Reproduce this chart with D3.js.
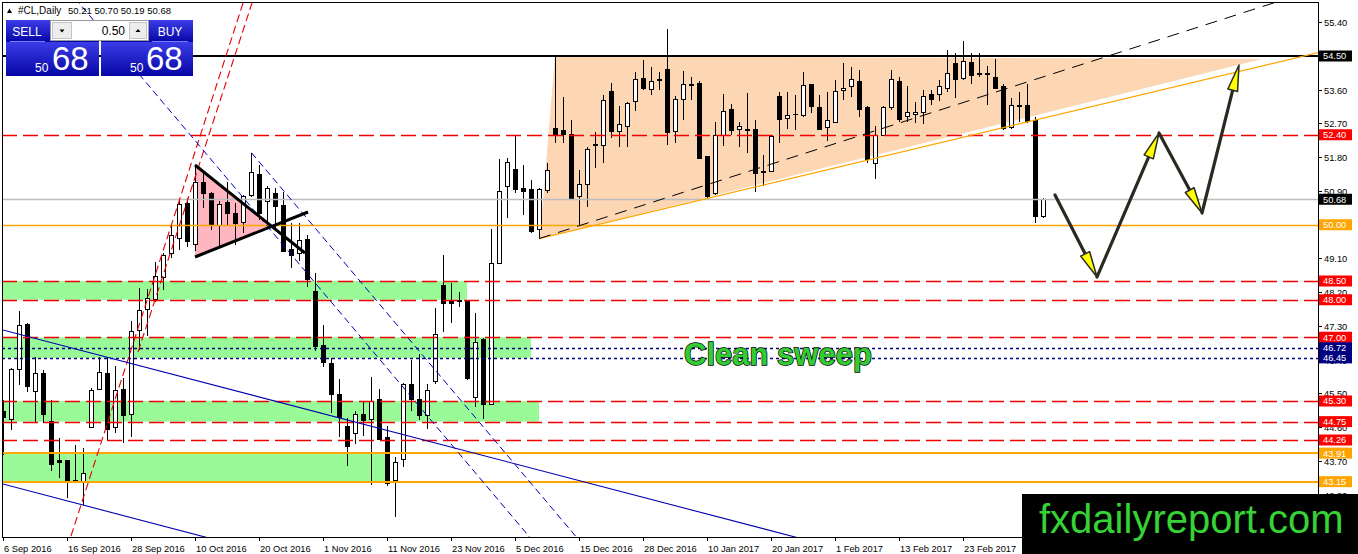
<!DOCTYPE html>
<html><head><meta charset="utf-8">
<script src="https://cdn.jsdelivr.net/npm/d3@7"></script>
<style>
body{margin:0;background:#fff;}
svg{display:block;font-family:"Liberation Sans",Arial,sans-serif;}
</style>
</head><body>
<svg id="c" width="1358" height="554"></svg>
<script>
// ---------------- DATA ----------------
const dates = ["2016-09-06","2016-09-07","2016-09-08","2016-09-09","2016-09-12","2016-09-13","2016-09-14","2016-09-15","2016-09-16","2016-09-19",
"2016-09-20","2016-09-21","2016-09-22","2016-09-23","2016-09-26","2016-09-27","2016-09-28","2016-09-29","2016-09-30","2016-10-03",
"2016-10-04","2016-10-05","2016-10-06","2016-10-07","2016-10-10","2016-10-11","2016-10-12","2016-10-13","2016-10-14","2016-10-17",
"2016-10-18","2016-10-19","2016-10-20","2016-10-21","2016-10-24","2016-10-25","2016-10-26","2016-10-27","2016-10-28","2016-10-31",
"2016-11-01","2016-11-02","2016-11-03","2016-11-04","2016-11-07","2016-11-08","2016-11-09","2016-11-10","2016-11-11","2016-11-14",
"2016-11-15","2016-11-16","2016-11-17","2016-11-18","2016-11-21","2016-11-22","2016-11-23","2016-11-24","2016-11-25","2016-11-28",
"2016-11-29","2016-11-30","2016-12-01","2016-12-02","2016-12-05","2016-12-06","2016-12-07","2016-12-08","2016-12-09","2016-12-12",
"2016-12-13","2016-12-14","2016-12-15","2016-12-16","2016-12-19","2016-12-20","2016-12-21","2016-12-22","2016-12-23","2016-12-27",
"2016-12-28","2016-12-29","2016-12-30","2017-01-03","2017-01-04","2017-01-05","2017-01-06","2017-01-09","2017-01-10","2017-01-11",
"2017-01-12","2017-01-13","2017-01-16","2017-01-17","2017-01-18","2017-01-19","2017-01-20","2017-01-23","2017-01-24","2017-01-25",
"2017-01-26","2017-01-27","2017-01-30","2017-01-31","2017-02-01","2017-02-02","2017-02-03","2017-02-06","2017-02-07","2017-02-08",
"2017-02-09","2017-02-10","2017-02-13","2017-02-14","2017-02-15","2017-02-16","2017-02-17","2017-02-20","2017-02-21","2017-02-22",
"2017-02-23","2017-02-24","2017-02-27","2017-02-28","2017-03-01","2017-03-02","2017-03-03","2017-03-06","2017-03-07","2017-03-08",
"2017-03-09"];

const open = [45.02,44.81,46.13,47.35,45.55,46.04,44.75,43.70,43.71,43.15,
43.15,44.60,45.61,46.04,44.60,45.61,44.94,47.19,47.74,48.01,
48.60,49.24,49.64,50.57,49.46,51.13,50.82,49.99,50.59,50.29,
50.06,50.77,51.33,50.62,50.84,50.50,49.33,49.22,49.61,48.23,
46.77,46.30,45.48,44.63,44.44,44.94,44.81,45.34,44.33,43.18,
43.74,45.74,45.34,44.91,45.83,48.37,47.95,47.98,47.97,45.40,
46.94,45.21,48.97,51.02,51.46,50.97,50.93,49.88,50.91,52.57,
52.50,52.41,50.75,51.08,52.15,52.10,53.55,52.48,52.63,53.28,
53.90,53.61,53.88,54.13,52.48,53.34,53.73,53.77,51.82,50.82,
52.37,53.06,52.54,52.53,52.53,51.42,51.42,53.42,52.83,52.94,
52.91,53.73,53.13,52.60,52.73,53.57,53.68,53.81,53.13,51.64,
52.37,53.13,53.82,52.88,52.95,52.99,53.46,53.46,53.64,54.29,
53.90,54.32,54.02,54.02,53.93,53.68,52.60,53.17,53.17,52.79,
50.21];
const high = [45.33,46.17,47.71,47.37,46.48,46.13,45.33,44.30,43.73,44.13,
44.04,45.64,46.48,46.48,46.22,45.92,47.42,48.30,48.28,49.00,
49.24,49.99,50.66,50.70,51.59,51.39,50.88,50.62,51.15,50.57,
50.79,51.92,51.59,51.02,50.97,50.88,50.04,50.04,49.73,48.70,
47.33,46.44,45.88,44.84,45.02,45.28,45.93,45.61,44.62,43.80,
45.77,46.39,46.55,45.75,47.79,49.19,48.44,48.20,47.99,47.64,
46.97,49.88,51.74,51.77,52.39,51.59,51.19,50.97,51.64,54.50,
53.40,52.79,51.46,52.08,52.48,53.45,53.79,53.17,53.28,54.08,
54.38,54.20,54.08,55.21,53.42,54.11,53.95,53.82,51.82,52.75,
53.49,53.22,52.75,53.52,52.79,51.86,52.39,53.55,53.55,53.46,
54.06,53.75,53.46,53.55,53.86,54.32,54.20,54.13,53.17,52.62,
53.17,54.13,53.95,53.70,53.26,53.58,53.58,53.86,54.66,54.57,
54.91,54.57,54.59,54.22,54.41,53.75,53.37,53.55,53.75,52.88,
50.70];
const low = [43.86,44.53,45.73,45.55,44.70,44.70,43.42,43.24,42.70,43.10,
42.53,44.60,45.59,44.22,44.44,44.17,44.35,46.65,47.02,47.95,
48.26,49.10,49.33,49.40,49.30,50.44,49.86,49.42,49.99,49.46,
49.77,50.75,50.13,49.99,49.82,49.28,48.84,49.02,48.35,46.62,
46.20,44.97,44.35,43.57,44.15,44.37,43.06,44.26,43.03,42.20,
43.55,45.02,44.78,44.54,45.74,47.15,47.39,47.80,45.86,45.13,
44.81,45.19,48.97,50.17,50.84,50.26,49.77,49.61,50.84,52.17,
52.17,50.66,49.99,50.48,51.50,51.64,52.30,52.06,52.06,53.02,
53.59,53.46,53.59,52.13,52.17,52.79,53.33,51.74,50.70,50.79,
52.10,52.39,52.08,51.90,50.88,51.02,51.42,52.19,52.54,52.53,
52.88,52.97,52.53,52.22,52.73,53.33,53.40,52.88,51.64,51.21,
52.37,53.06,52.75,52.75,52.70,52.69,53.19,53.31,53.55,53.37,
53.86,53.75,53.93,53.19,53.61,52.53,52.55,52.75,52.70,50.04,
50.19];
const close = [44.85,46.13,47.30,45.68,46.04,44.94,43.61,43.67,43.15,43.18,
43.37,45.59,46.06,44.54,45.59,44.91,47.15,47.71,48.04,48.62,
49.17,49.70,50.55,49.55,51.13,50.84,49.99,50.53,50.29,50.04,
50.75,51.39,50.30,50.97,50.48,49.28,49.19,49.59,48.53,46.75,
46.32,45.46,44.86,44.08,44.94,44.79,45.28,44.26,43.09,43.66,
45.73,45.33,44.91,45.59,47.08,47.89,47.90,47.96,45.90,46.86,
45.21,48.97,50.88,51.66,50.94,50.88,49.82,50.94,51.44,52.41,
52.41,50.70,51.06,52.01,52.10,53.30,52.48,52.66,53.24,53.86,
53.62,53.83,53.85,52.46,53.34,53.75,53.70,51.77,50.75,52.37,
53.03,52.51,52.63,52.51,51.37,51.40,52.35,52.81,52.92,52.94,
53.70,53.15,52.54,52.79,53.55,53.64,53.86,53.08,51.73,52.37,
53.13,53.86,52.81,52.99,53.00,53.42,53.35,53.68,54.02,53.86,
54.35,53.99,54.00,54.00,53.64,52.57,53.17,53.15,52.75,50.21,
50.68];

const tickIndex = [0,8,16,24,32,40,48,56,64,72,80,88,96,104,112,120];
const tickLabels = ["6 Sep 2016","16 Sep 2016","28 Sep 2016","10 Oct 2016","20 Oct 2016","1 Nov 2016","11 Nov 2016","23 Nov 2016",
"5 Dec 2016","15 Dec 2016","28 Dec 2016","10 Jan 2017","20 Jan 2017","1 Feb 2017","13 Feb 2017","23 Feb 2017"];
const priceTicks = [55.40,54.50,53.60,52.70,51.80,50.90,50.00,49.10,48.20,47.30,46.40,45.50,44.60,43.70,42.80];

const levelPrices = [54.50,52.40,50.68,50.00,48.50,48.00,47.00,46.72,46.45,45.30,44.75,44.26,43.91,43.15];
const levelKinds  = ["resist","red","last","orangeThin","red","red","red","navy","navy","red","red","red","orange","orange"];

const zoneTop    = [48.50,47.00,45.30,43.91];
const zoneBottom = [48.00,46.45,44.75,43.15];
const zoneEndBar = [58,66,67,48];

const header = "#CL,Daily";
const ohlcText = "50.21 50.70 50.19 50.68";
const lotText = "0.50";
const bidBig = "68", bidSmall = "50";

// drawn objects (anchor points as [bar index, price])
const channelPeach = [[69,54.50],[67.1,49.63],[157.4,54.42]];
const flagPink = [[24,51.593],[24,49.14],[33.6,49.955]];
const flagUpper = [[24,51.593],[37.75,49.247]];
const flagLower = [[24,49.14],[38.125,50.34]];
const trendBlackDash = [[67,49.63],[112,52.71]];
const trendOrange = [[67,49.63],[162,54.47]];
const redRay1 = [[8.5,41.70],[30.0,55.91]];
const redRay2 = [[16.875,46.607],[31.125,55.913]];
const blueSolid1 = [[-0.5,47.22],[99,41.673]];
const blueSolid2 = [[-0.5,43.113],[25.25,41.673]];
const blueDash1 = [[9.0,56.04],[66.5,41.50]];
const blueDash2 = [[31.06,51.92],[71.67,41.673]];
const forecastPath = [[131.5,50.793],[136.75,48.607],[144.5,52.447],[149.875,50.313],[154.5,54.26]];
const noteText = "Clean sweep";
const notePos = [96.875,46.26];
const watermark = "fxdailyreport.com";

// ---------------- CHART ----------------
const L=2, R=1318, T=3, B=537;
const svg = d3.select("#c");
const x = d3.scaleLinear().domain([0,130]).range([3,1043]);
const y = d3.scaleLinear().domain([41.6733,55.9133]).range([B,T]);

const defs = svg.append("defs");
defs.append("clipPath").attr("id","plot").append("rect")
  .attr("x",L).attr("y",T).attr("width",R-L).attr("height",B-T);
const g1 = defs.append("linearGradient").attr("id","btn").attr("x1",0).attr("y1",0).attr("x2",0).attr("y2",1);
g1.append("stop").attr("offset","0%").attr("stop-color","#3c3ce8");
g1.append("stop").attr("offset","100%").attr("stop-color","#0606a6");

svg.append("rect").attr("width",1358).attr("height",554).attr("fill","#fff");

const plot = svg.append("g").attr("clip-path","url(#plot)");
const P = d => [x(d[0]), y(d[1])];

// background objects
zoneTop.forEach((t,k)=>{
  plot.append("rect").attr("x",L).attr("y",y(t))
    .attr("width",x(zoneEndBar[k])-L).attr("height",y(zoneBottom[k])-y(t))
    .attr("fill","#98fb98");
});
plot.append("polygon").attr("points",channelPeach.map(P).map(p=>p.join(",")).join(" "))
  .attr("fill","#fdd6b4");
plot.append("polygon").attr("points",flagPink.map(P).map(p=>p.join(",")).join(" "))
  .attr("fill","#ffb6c1");

// candles
const idx = d3.range(open.length);
const cg = plot.append("g").attr("shape-rendering","crispEdges");
cg.selectAll("line.w").data(idx).join("line")
  .attr("x1",i=>Math.round(x(i))+0.5).attr("x2",i=>Math.round(x(i))+0.5)
  .attr("y1",i=>y(high[i])).attr("y2",i=>y(low[i]))
  .attr("stroke","#000").attr("stroke-width",1);
cg.selectAll("rect.b").data(idx).join("rect")
  .attr("x",i=>Math.round(x(i))-1.5).attr("width",4)
  .attr("y",i=>y(Math.max(open[i],close[i])))
  .attr("height",i=>Math.max(0.01,Math.abs(y(open[i])-y(close[i]))))
  .attr("fill",i=>close[i]>=open[i]?"#fff":"#000")
  .attr("stroke","#000").attr("stroke-width",1);

// horizontal levels
const levelStyle = {
  resist:{c:"#000",w:2,d:null,box:"#000"},
  red:{c:"#f00000",w:1.5,d:"15,6",box:"#ff0000"},
  last:{c:"#bdbdbd",w:1.3,d:null,box:"#000"},
  orangeThin:{c:"#ffa500",w:1.5,d:null,box:"#ffa500"},
  orange:{c:"#ffa500",w:2.2,d:null,box:"#ffa500"},
  navy:{c:"#000080",w:1.3,d:"3,3",box:"#000080"}
};
const lg = plot.append("g");
levelPrices.forEach((p,k)=>{
  const s = levelStyle[levelKinds[k]];
  const yy = Math.round(y(p)) + (s.w<2?0.5:0);
  lg.append("line").attr("x1",L).attr("x2",R).attr("y1",yy).attr("y2",yy)
    .attr("stroke",s.c).attr("stroke-width",s.w).attr("stroke-dasharray",s.d);
});

// trend lines
function ray(seg, ext){
  const a=P(seg[0]), b=P(seg[1]);
  const k = ext||1;
  return [a,[a[0]+(b[0]-a[0])*k, a[1]+(b[1]-a[1])*k]];
}
function drawSeg(pts, color, w, dash){
  plot.append("line").attr("x1",pts[0][0]).attr("y1",pts[0][1])
    .attr("x2",pts[1][0]).attr("y2",pts[1][1])
    .attr("stroke",color).attr("stroke-width",w).attr("stroke-dasharray",dash);
}
drawSeg(ray(redRay1,2),"#e60000",1.1,"8,4");
drawSeg(ray(redRay2,2),"#e60000",1.1,"8,4");
drawSeg(ray(blueSolid1,1.5),"#0000b0",1.1,null);
drawSeg(ray(blueSolid2,1.5),"#0000b0",1.1,null);
drawSeg(ray(blueDash1,1),"#0000c0",1,"7,4");
drawSeg(ray(blueDash2,1.2),"#0000c0",1,"7,4");
drawSeg(ray(trendOrange,2),"#ffa500",1.2,null);
drawSeg(ray(trendBlackDash,3),"#000",1,"12,8");
drawSeg(flagUpper.map(P),"#000",3,null);
drawSeg(flagLower.map(P),"#000",3,null);

// forecast arrows
const fp = forecastPath.map(P);
for(let k=0;k<fp.length-1;k++){
  const a=fp[k], b=fp[k+1];
  const dx=b[0]-a[0], dy=b[1]-a[1], len=Math.hypot(dx,dy);
  const ux=dx/len, uy=dy/len, nx=-uy, ny=ux;
  const Lh=26, Wh=5;
  const base=[b[0]-ux*Lh, b[1]-uy*Lh];
  plot.append("line").attr("x1",a[0]).attr("y1",a[1]).attr("x2",base[0]).attr("y2",base[1])
    .attr("stroke","#2a2a22").attr("stroke-width",3.2).attr("stroke-linecap","round");
  plot.append("polygon").attr("points",[b,[base[0]+nx*Wh,base[1]+ny*Wh],[base[0]-nx*Wh,base[1]-ny*Wh]].map(p=>p.join(",")).join(" "))
    .attr("fill","#ffff00").attr("stroke","#2a2a22").attr("stroke-width",1.5).attr("stroke-linejoin","round");
}

// note
plot.append("text").attr("x",x(notePos[0])).attr("y",y(notePos[1]))
  .attr("text-anchor","middle").attr("font-size",31).attr("font-weight","bold")
  .attr("fill","#33cc33").attr("stroke","#000").attr("stroke-width",1.4)
  .attr("paint-order","stroke").text(noteText);

// frame
svg.append("rect").attr("x",L+0.5).attr("y",T-0.5).attr("width",R-L).attr("height",B-T+0.5)
  .attr("fill","none").attr("stroke","#000").attr("shape-rendering","crispEdges");

// x axis
const xa = svg.append("g");
tickIndex.forEach((ti,k)=>{
  const xx = Math.round(x(ti))+0.5;
  xa.append("line").attr("x1",xx).attr("x2",xx).attr("y1",B).attr("y2",B+4).attr("stroke","#000").attr("shape-rendering","crispEdges");
  xa.append("text").attr("x",xx+0.5).attr("y",552).attr("font-size",9.3).attr("fill","#000").text(tickLabels[k]);
});
// y axis
const ya = svg.append("g");
priceTicks.forEach(p=>{
  const yy = Math.round(y(p))+0.5;
  ya.append("line").attr("x1",R).attr("x2",R+4).attr("y1",yy).attr("y2",yy).attr("stroke","#000").attr("shape-rendering","crispEdges");
  ya.append("text").attr("x",R+6).attr("y",yy+3.4).attr("font-size",9.3).attr("fill","#000").text(p.toFixed(2));
});
levelPrices.forEach((p,k)=>{
  const s = levelStyle[levelKinds[k]];
  const yy = y(p);
  ya.append("rect").attr("x",R+1).attr("y",yy-5.5).attr("width",33).attr("height",11).attr("fill",s.box);
  ya.append("text").attr("x",R+5).attr("y",yy+3.4).attr("font-size",9.3).attr("fill","#fff").text(p.toFixed(2));
});

// header
svg.append("polygon").attr("points","7,13 12,13 9.5,8.5").attr("fill","#000");
svg.append("text").attr("x",18).attr("y",14).attr("font-size",10).text(header);
svg.append("text").attr("x",68).attr("y",14).attr("font-size",9.5).text(ohlcText);

// one-click panel
const pg = svg.append("g");
[[6,93],[101,92]].forEach(([bx,bw])=>{
  pg.append("rect").attr("x",bx).attr("y",20).attr("width",bw).attr("height",22).attr("fill","url(#btn)");
  pg.append("rect").attr("x",bx).attr("y",42).attr("width",bw).attr("height",34).attr("fill","url(#btn)");
});
pg.append("line").attr("x1",10).attr("x2",45).attr("y1",41.5).attr("y2",41.5).attr("stroke","#7a7aff");
pg.append("line").attr("x1",152).attr("x2",188).attr("y1",41.5).attr("y2",41.5).attr("stroke","#7a7aff");
pg.append("rect").attr("x",50.5).attr("y",20.5).attr("width",98).attr("height",20).attr("fill","#fff").attr("stroke","#9a9a9a");
pg.append("rect").attr("x",52.5).attr("y",22.5).attr("width",19).attr("height",16).attr("fill","#ededed").attr("stroke","#c4c4c4");
pg.append("rect").attr("x",129.5).attr("y",22.5).attr("width",17).attr("height",16).attr("fill","#ededed").attr("stroke","#c4c4c4");
pg.append("polygon").attr("points","59.5,29.5 64.5,29.5 62,32.5").attr("fill","#000");
pg.append("polygon").attr("points","135.5,32 140.5,32 138,29").attr("fill","#000");
pg.append("text").attr("x",125).attr("y",35).attr("text-anchor","end").attr("font-size",12).text(lotText);
pg.append("text").attr("x",27).attr("y",36).attr("text-anchor","middle").attr("font-size",12).attr("fill","#fff").text("SELL");
pg.append("text").attr("x",170).attr("y",36).attr("text-anchor","middle").attr("font-size",12).attr("fill","#fff").text("BUY");
pg.append("text").attr("x",35).attr("y",71.5).attr("font-size",12).attr("fill","#fff").text(bidSmall);
pg.append("text").attr("x",52).attr("y",70).attr("font-size",33).attr("fill","#fff").text(bidBig);
pg.append("text").attr("x",130).attr("y",71.5).attr("font-size",12).attr("fill","#fff").text(bidSmall);
pg.append("text").attr("x",146).attr("y",70).attr("font-size",33).attr("fill","#fff").text(bidBig);

// watermark
svg.append("rect").attr("x",1022).attr("y",494).attr("width",336).attr("height",60).attr("fill","#000");
svg.append("text").attr("x",1039).attr("y",533).attr("font-size",40).attr("fill","#36d236").text(watermark);
</script>
</body></html>
